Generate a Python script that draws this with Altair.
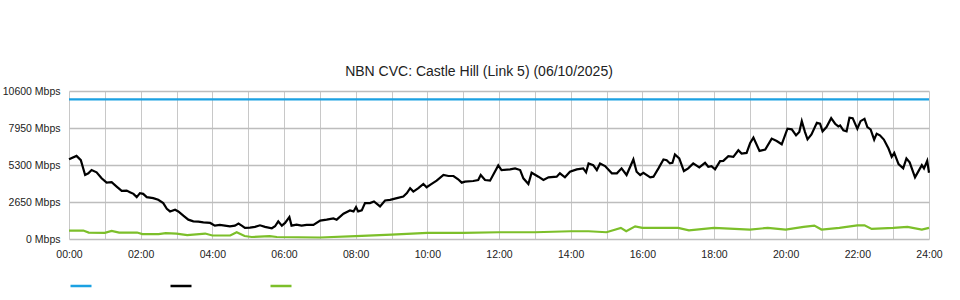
import altair as alt
import pandas as pd

# Series names (legend shows only coloured strokes, no text)
series_names = ["Capacity", "Download", "Upload"]
series_colors = ["#1ba1e2", "#000000", "#7cbf2a"]

# Capacity (blue)
cap_hours = [0, 24]
cap_values = [10000, 10000]

# Download (black), hours of day and Mbps
dl_hours = [0.00, 0.21, 0.33, 0.45, 0.54, 0.63, 0.77, 0.91, 1.05, 1.19, 1.33, 1.47, 1.61, 1.70,
            1.80, 1.89, 1.98, 2.07, 2.17, 2.35, 2.49, 2.63, 2.73, 2.82, 2.96, 3.05, 3.19, 3.33,
            3.47, 3.61, 3.75, 3.94, 4.07, 4.21, 4.35, 4.49, 4.63, 4.73, 4.82, 4.91, 5.05, 5.19,
            5.33, 5.47, 5.66, 5.75, 5.84, 5.94, 6.03, 6.15, 6.21, 6.35, 6.49, 6.63, 6.82, 7.01,
            7.19, 7.38, 7.47, 7.66, 7.84, 7.94, 8.01, 8.07, 8.17, 8.26, 8.40, 8.51, 8.68, 8.82,
            8.96, 9.15, 9.33, 9.43, 9.52, 9.61, 9.75, 9.89, 9.98, 10.12, 10.26, 10.45, 10.59,
            10.73, 10.86, 10.96, 11.05, 11.28, 11.42, 11.49, 11.61, 11.75, 11.98, 12.07, 12.31,
            12.45, 12.59, 12.68, 12.82, 12.91, 13.10, 13.24, 13.38, 13.61, 13.70, 13.84, 13.98,
            14.17, 14.35, 14.43, 14.50, 14.63, 14.73, 14.82, 14.96, 15.15, 15.29, 15.42, 15.56,
            15.75, 15.84, 15.94, 16.03, 16.22, 16.31, 16.45, 16.59, 16.68, 16.77, 16.84, 16.91,
            17.03, 17.16, 17.28, 17.42, 17.59, 17.75, 17.84, 17.93, 18.03, 18.17, 18.26, 18.40,
            18.54, 18.68, 18.77, 18.91, 19.01, 19.10, 19.27, 19.43, 19.61, 19.75, 19.89, 20.05,
            20.17, 20.29, 20.38, 20.45, 20.54, 20.61, 20.72, 20.87, 20.96, 21.03, 21.14, 21.27,
            21.38, 21.47, 21.52, 21.61, 21.70, 21.78, 21.87, 22.00, 22.09, 22.20, 22.28, 22.37,
            22.47, 22.54, 22.63, 22.74, 22.87, 22.96, 23.03, 23.15, 23.28, 23.37, 23.46, 23.61,
            23.80, 23.86, 23.95, 24.00]
dl_values = [5720, 5954, 5648, 4583, 4704, 4938, 4775, 4348, 4036, 4064, 3751, 3446, 3467, 3354,
             3233, 2998, 3283, 3233, 2998, 2927, 2806, 2572, 2167, 1975, 2096, 1975, 1670, 1385,
             1265, 1243, 1194, 1151, 959, 1009, 959, 909, 959, 1101, 959, 796, 817, 867,
             980, 867, 767, 909, 1265, 959, 1151, 1577, 959, 1030, 959, 1009, 1009, 1314,
             1385, 1478, 1385, 1812, 2046, 1975, 2288, 1975, 2046, 2572, 2572, 2686, 2330, 2757,
             2806, 2927, 3041, 3283, 3638, 3396, 3638, 3943, 3709, 3943, 4178, 4583, 4512,
             4512, 4277, 4036, 4107, 4156, 4227, 4583, 4227, 4178, 5272, 4938, 4988,
             5059, 4938, 4348, 3943, 4746, 4462, 4227, 4419, 4462, 4704, 4419, 4817,
             4988, 5059, 4775, 5414, 5293, 4938, 5414, 5222, 4704, 4704, 5059, 4583,
             5698, 4817, 4583, 4746, 4419, 4462, 5059, 5698, 5648, 5414, 5457, 6053,
             5769, 4867, 5059, 5414, 5130, 5457, 5172, 5222, 4988, 5577, 5599, 5933,
             5883, 6359, 6125, 6167, 6878, 7261, 6309, 6409, 7190, 7020, 6785, 7901,
             7851, 7425, 7659, 8441, 7659, 7140, 7496, 8327, 8256, 7709, 8014, 8654,
             8256, 8064, 8135, 7780, 7709, 8682, 8654, 7901, 8441, 8611, 8014, 7851,
             7119, 7545, 7425, 7119, 6480, 5883, 6167, 5364, 5059, 5769, 5485, 4419,
             5293, 5059, 5599, 4746]

# Upload (green)
ul_hours = [0.0, 0.4, 0.55, 1.0, 1.19, 1.4, 1.9, 2.05, 2.5, 2.7, 3.0, 3.3, 3.8, 4.0, 4.5, 4.68,
            4.9, 5.1, 5.6, 5.8, 7.0, 8.0, 9.0, 10.0, 11.0, 12.0, 13.0, 14.0, 14.5, 15.0, 15.4,
            15.55, 15.8, 16.0, 16.5, 17.0, 17.3, 18.0, 19.0, 19.5, 20.0, 20.5, 20.8, 21.0, 21.5,
            22.0, 22.2, 22.4, 23.0, 23.4, 23.8, 24.0]
ul_values = [604, 604, 462, 440, 583, 462, 462, 355, 355, 426, 391, 284, 391, 249, 249, 483,
             213, 142, 199, 142, 107, 199, 320, 440, 440, 483, 483, 554, 554, 483, 796,
             554, 909, 796, 796, 796, 625, 796, 675, 796, 675, 867, 959, 675, 796,
             980, 980, 725, 796, 867, 675, 796]

y_ticks = [0, 2650, 5300, 7950, 10600]
x_ticks = list(range(0, 25))

rows = []
for h, v in zip(cap_hours, cap_values):
    rows.append({"hour": h, "mbps": v, "series": series_names[0]})
for h, v in zip(dl_hours, dl_values):
    rows.append({"hour": h, "mbps": v, "series": series_names[1]})
for h, v in zip(ul_hours, ul_values):
    rows.append({"hour": h, "mbps": v, "series": series_names[2]})
df = pd.DataFrame(rows)

font = "Liberation Sans"

chart = alt.Chart(df).mark_line(strokeWidth=2.2, interpolate="linear").encode(
    x=alt.X("hour:Q", scale=alt.Scale(domain=[0, 24], nice=False),
            axis=alt.Axis(values=x_ticks, title=None, ticks=False, domain=False,
                          labelExpr="datum.value % 2 == 0 ? ((datum.value < 10 ? '0' : '') + datum.value + ':00') : ''",
                          labelPadding=10, labelFlush=False, labelOverlap=False,
                          gridColor="#c8c8c8", gridWidth=1)),
    y=alt.Y("mbps:Q", scale=alt.Scale(domain=[0, 10600], nice=False),
            axis=alt.Axis(values=y_ticks, title=None, ticks=False, domain=False,
                          labelExpr="datum.value + ' Mbps'", labelPadding=9, labelFlush=False,
                          gridColor="#bdbdbd", gridWidth=1.5)),
    color=alt.Color("series:N",
                    scale=alt.Scale(domain=series_names, range=series_colors),
                    legend=alt.Legend(orient="none", legendX=0, legendY=183, direction="horizontal",
                                      title=None, symbolType="stroke", symbolSize=441,
                                      symbolStrokeWidth=2.5, labelExpr="''", labelOffset=0,
                                      columnPadding=68)),
    order=alt.Order("hour:Q"),
).properties(
    width=860, height=148,
    autosize=alt.AutoSizeParams(type="none"),
    padding={"left": 69, "top": 91, "right": 31, "bottom": 61},
    title=alt.Title("NBN CVC: Castle Hill (Link 5) (06/10/2025)", fontSize=14, fontWeight="normal",
                    font=font, color="#222222", offset=7, dx=-20, anchor="middle"),
).configure_axis(
    labelFont=font, labelFontSize=10.5, labelColor="#222222"
).configure_view(
    stroke=None
)

chart.save("out.html", embed_options={"renderer": "svg", "actions": False})
